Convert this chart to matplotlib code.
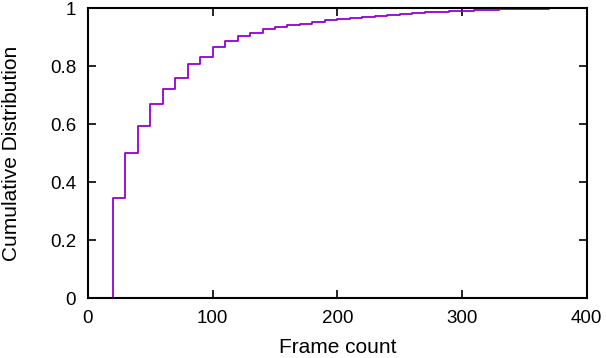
import matplotlib
matplotlib.use('Agg')
import matplotlib.pyplot as plt
from matplotlib.ticker import FuncFormatter

# Step positions (frame count) and CDF values
frame_count = [20, 20, 30, 40, 50, 60, 70, 80, 90, 100, 110, 120, 130, 140,
               150, 160, 170, 180, 190, 200, 210, 220, 230, 240, 250, 260,
               270, 280, 290, 300, 310, 320, 330, 340, 350, 360, 370]
cdf = [0.0, 0.347, 0.500, 0.594, 0.671, 0.723, 0.761, 0.807, 0.833, 0.866,
       0.888, 0.904, 0.916, 0.928, 0.934, 0.941, 0.947, 0.952, 0.958, 0.963,
       0.967, 0.970, 0.973, 0.976, 0.982, 0.984, 0.986, 0.988, 0.990, 0.992,
       0.993, 0.995, 0.996, 0.997, 0.998, 0.999, 1.0]

x_ticks = [0, 100, 200, 300, 400]
y_ticks = [0, 0.2, 0.4, 0.6, 0.8, 1.0]

plt.rcParams['font.family'] = ['Liberation Sans', 'DejaVu Sans']
plt.rcParams['font.size'] = 13

fig = plt.figure(figsize=(6.06, 3.58), dpi=100)
ax = fig.add_axes([0.1452, 0.1668, 0.9680 - 0.1452, 0.9768 - 0.1668])

ax.step(frame_count, cdf, where='post', color='#9400d3', lw=1.3)

# Settings
ax.set_xlim(0, 400)
ax.set_ylim(0, 1)
ax.set_xticks(x_ticks)
ax.set_yticks(y_ticks)
ax.yaxis.set_major_formatter(FuncFormatter(lambda v, p: f'{v:g}'))
ax.tick_params(direction='in', length=6, width=1.2, top=True, right=True,
               labelsize=13.5, colors='black')
ax.tick_params(axis='x', pad=8.6)
ax.tick_params(axis='y', pad=8.6)
for s in ax.spines.values():
    s.set_linewidth(1.5)

ax.set_xlabel('Frame count', fontsize=15)
ax.set_ylabel('Cumulative Distribution', fontsize=15)
ax.xaxis.set_label_coords(0.5, -0.138)
ax.yaxis.set_label_coords(-0.134, 0.5)

fig.savefig('out.png', dpi=100)
